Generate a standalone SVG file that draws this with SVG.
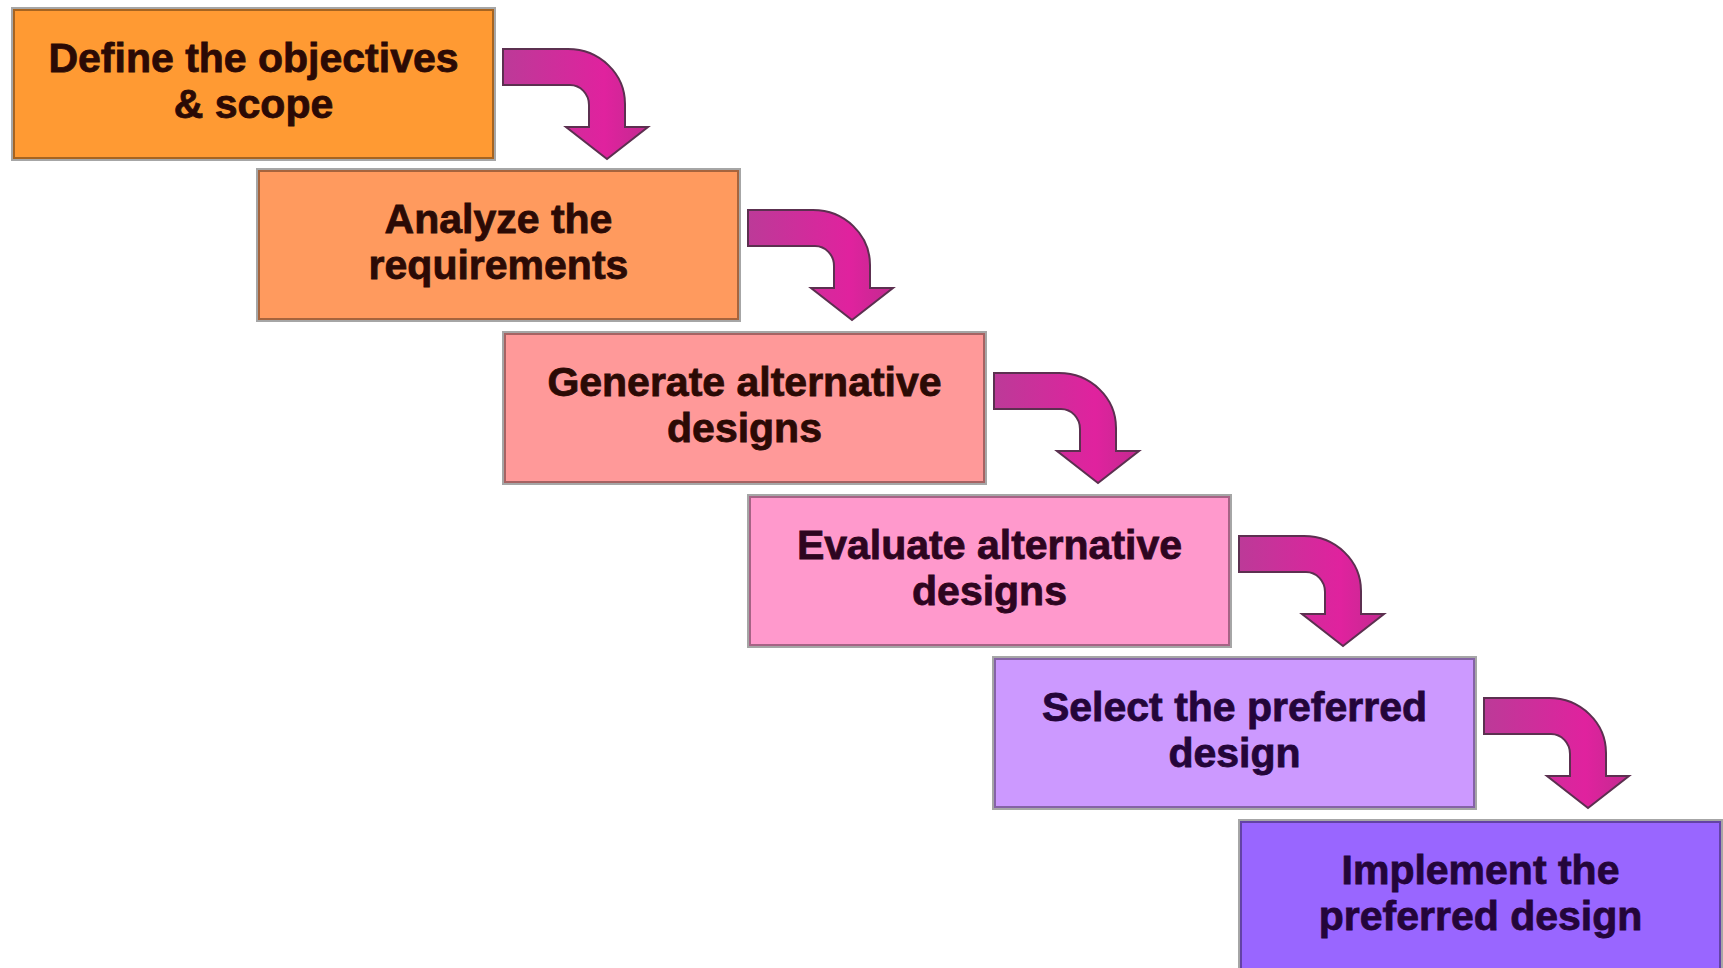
<svg xmlns="http://www.w3.org/2000/svg" width="1723" height="968" viewBox="0 0 1723 968">
  <style>
    .box { stroke: #000; stroke-opacity: 0.35; stroke-width: 4; }
    .lbl { font-family: "Liberation Sans", Arial, sans-serif; font-weight: bold; font-size: 41px; text-anchor: middle; stroke-width: 0.8; }
    .warm { fill: #2B0A05; stroke: #2B0A05; }
    .pinkt { fill: #2E0520; stroke: #2E0520; }
    .cool { fill: #24053A; stroke: #24053A; }
    .arrow { fill: url(#ag); stroke: #5C3050; stroke-width: 2; stroke-linejoin: miter; }
  </style>
  <defs>
    <linearGradient id="ag" x1="0" y1="0" x2="1" y2="0">
      <stop offset="0" stop-color="#BC3A98"/>
      <stop offset="0.7" stop-color="#E0229E"/>
      <stop offset="1" stop-color="#C22A90"/>
    </linearGradient>
    <path id="curl" d="M 9,40 L 74,40 A 57 55 0 0 1 131,95 L 131,118 L 154,118 L 113,150 L 72,118 L 95,118 L 95,96 A 19 20 0 0 0 76,76 L 9,76 Z"/>
  </defs>
  <rect width="1723" height="968" fill="#FFFFFF"/>

  <g id="connectors">
    <use href="#curl" class="arrow" transform="translate(494,9)"/>
    <use href="#curl" class="arrow" transform="translate(739,170)"/>
    <use href="#curl" class="arrow" transform="translate(985,333)"/>
    <use href="#curl" class="arrow" transform="translate(1230,496)"/>
    <use href="#curl" class="arrow" transform="translate(1475,658)"/>
  </g>

  <g id="node1">
    <rect class="box" x="13" y="9" width="481" height="150" fill="#FF9A33"/>
    <text class="lbl warm" x="253.5" y="72"><tspan x="253.5">Define the objectives</tspan><tspan x="253.5" dy="46">&amp; scope</tspan></text>
  </g>
  <g id="node2">
    <rect class="box" x="258" y="170" width="481" height="150" fill="#FF9A5E"/>
    <text class="lbl warm" x="498.5" y="233"><tspan x="498.5">Analyze the</tspan><tspan x="498.5" dy="46">requirements</tspan></text>
  </g>
  <g id="node3">
    <rect class="box" x="504" y="333" width="481" height="150" fill="#FF9999"/>
    <text class="lbl warm" x="744.5" y="396"><tspan x="744.5">Generate alternative</tspan><tspan x="744.5" dy="46">designs</tspan></text>
  </g>
  <g id="node4">
    <rect class="box" x="749" y="496" width="481" height="150" fill="#FF99CC"/>
    <text class="lbl pinkt" x="989.5" y="559"><tspan x="989.5">Evaluate alternative</tspan><tspan x="989.5" dy="46">designs</tspan></text>
  </g>
  <g id="node5">
    <rect class="box" x="994" y="658" width="481" height="150" fill="#CC99FF"/>
    <text class="lbl cool" x="1234.5" y="721"><tspan x="1234.5">Select the preferred</tspan><tspan x="1234.5" dy="46">design</tspan></text>
  </g>
  <g id="node6">
    <rect class="box" x="1240" y="821" width="481" height="150" fill="#9966FF"/>
    <text class="lbl cool" x="1480.5" y="884"><tspan x="1480.5">Implement the</tspan><tspan x="1480.5" dy="46">preferred design</tspan></text>
  </g>
</svg>
